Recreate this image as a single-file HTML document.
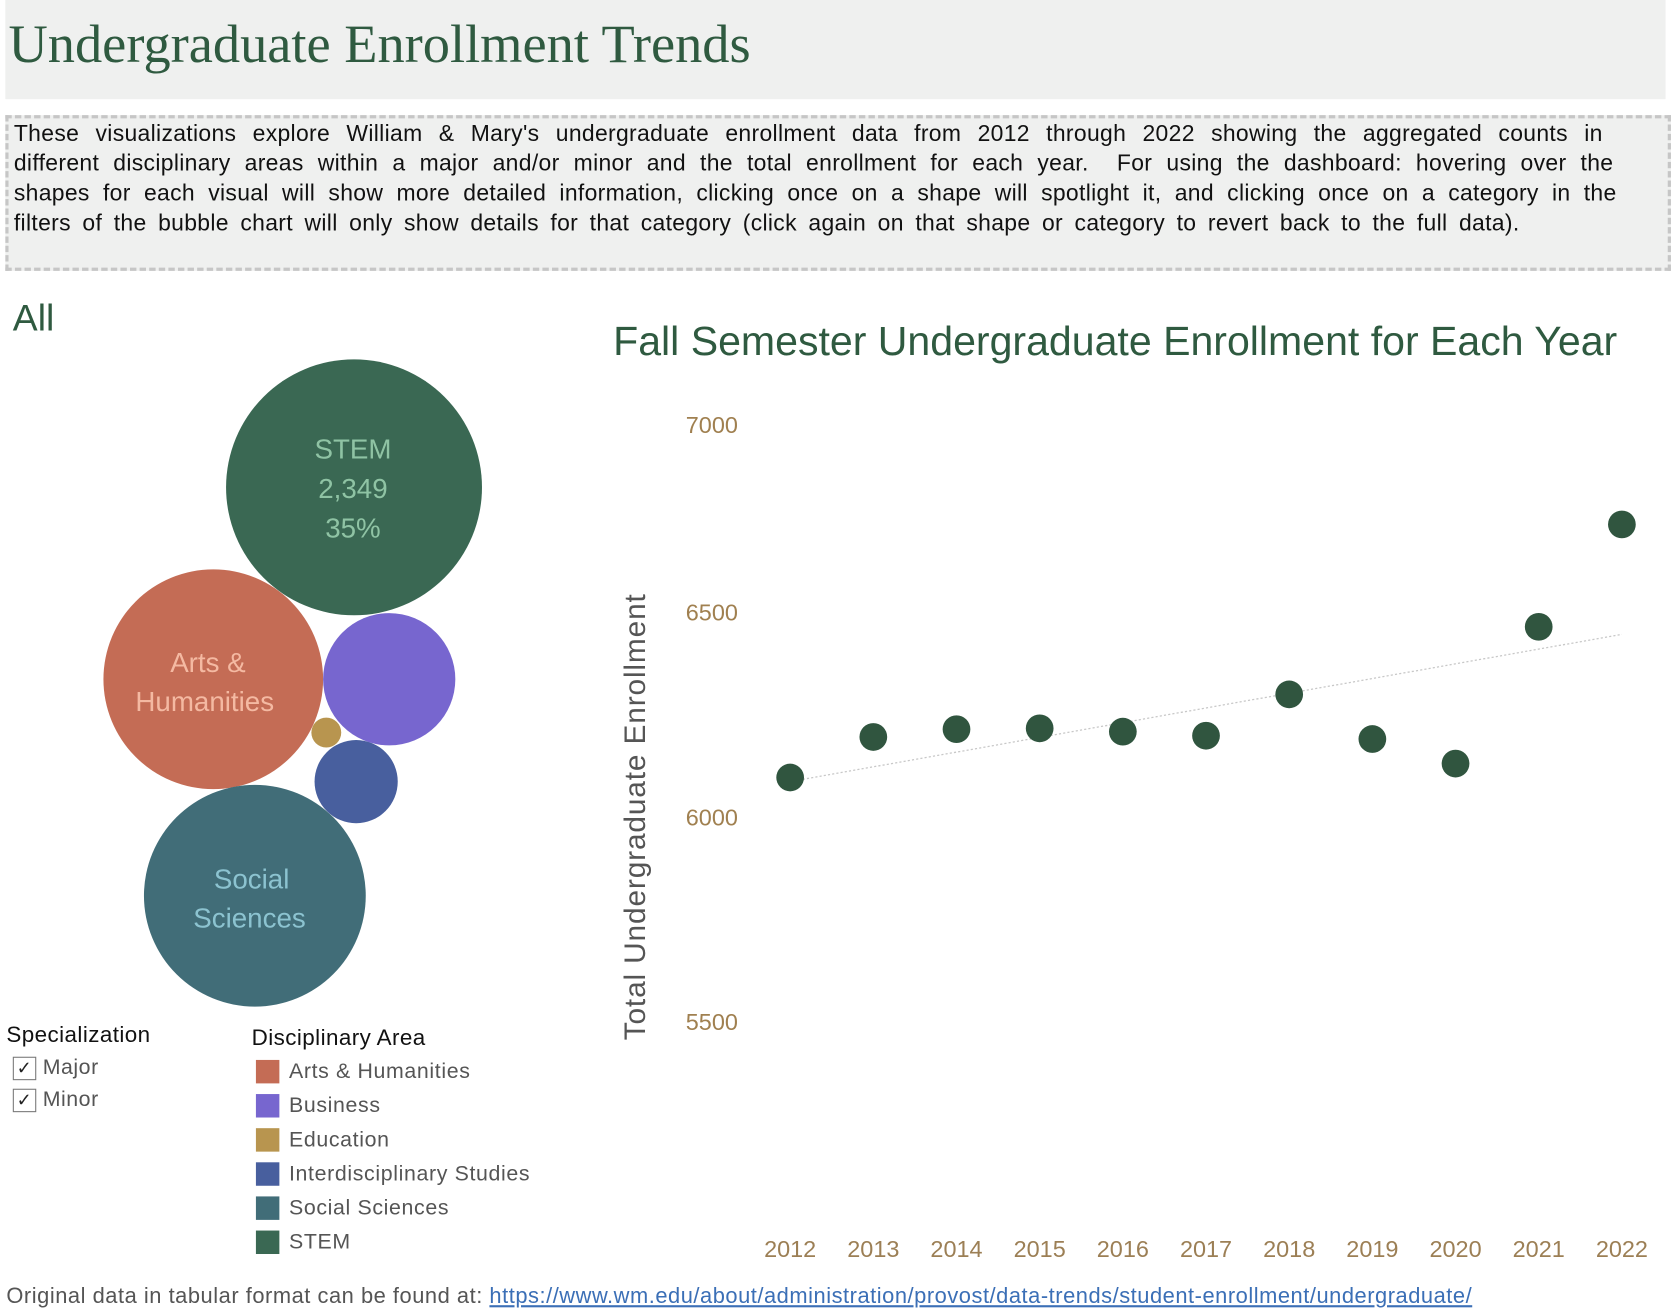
<!DOCTYPE html>
<html><head><meta charset="utf-8">
<style>
html,body{margin:0;padding:0;background:#fff;width:1672px;height:1316px;overflow:hidden}
#wrap{position:absolute;left:0;top:0;width:1568px;height:1234px;transform:scale(1.06633);transform-origin:0 0;font-family:"Liberation Sans",sans-serif}
.abs{position:absolute;white-space:nowrap}
.dl{display:block;white-space:nowrap;text-align:justify;text-align-last:justify;height:28px}
</style></head><body>
<div id="wrap">
<div class="abs" style="left:5px;top:0;width:1557px;height:93px;background:#eff0ef"></div>
<div class="abs" style="left:8px;top:13px;font-family:'Liberation Serif',serif;font-size:51px;color:#2f5a40">Undergraduate Enrollment Trends</div>
<div class="abs" style="left:5px;top:108px;width:1551px;height:140px;background:#eff0ef;border:3px dashed #c6c6c6;white-space:normal;font-size:21.5px;line-height:28px;color:#111;padding:0 0 0 5px;box-sizing:content-box">
<div style="padding-top:0px;letter-spacing:0.3px">
<span class="dl" style="width:1490px">These visualizations explore William &amp; Mary's undergraduate enrollment data from 2012 through 2022 showing the aggregated counts in</span>
<span class="dl" style="width:1500px">different disciplinary areas within a major and/or minor and the total enrollment for each year.&nbsp; For using the dashboard: hovering over the</span>
<span class="dl" style="width:1503px">shapes for each visual will show more detailed information, clicking once on a shape will spotlight it, and clicking once on a category in the</span>
<span class="dl" style="width:1412px">filters of the bubble chart will only show details for that category (click again on that shape or category to revert back to the full data).</span>
</div></div>
<div class="abs" style="left:12px;top:279px;font-size:35px;color:#2f5a40">All</div>

<svg class="abs" style="left:0;top:0" width="580" height="960">
<g font-family="Liberation Sans, sans-serif" text-anchor="middle" font-size="26">
<circle cx="332" cy="457" r="120" fill="#3a6853"/>
<text fill="#8fc3a4"><tspan x="331" y="430">STEM</tspan><tspan x="331" y="467">2,349</tspan><tspan x="331" y="504">35%</tspan></text>
<circle cx="200" cy="637" r="103" fill="#c46c55"/>
<text fill="#f4b9a2"><tspan x="195" y="630">Arts &amp;</tspan><tspan x="192" y="667">Humanities</tspan></text>
<circle cx="365" cy="637" r="62" fill="#7766cf"/>
<circle cx="306" cy="687" r="14" fill="#b8954f"/>
<circle cx="334" cy="733" r="39" fill="#485f9e"/>
<circle cx="239" cy="840" r="104" fill="#416d78"/>
<text fill="#8cc3d0"><tspan x="236" y="833">Social</tspan><tspan x="234" y="870">Sciences</tspan></text>
</g></svg>

<div class="abs" style="left:6px;top:959px;font-size:21px;letter-spacing:0.4px;color:#111">Specialization</div>
<div class="abs" style="left:12px;top:990px;font-size:20px;letter-spacing:0.5px;color:#555"><span style="display:inline-block;width:20px;height:20px;border:1px solid #777;text-align:center;line-height:20px;font-size:17px;color:#222;vertical-align:middle">✓</span> <span style="vertical-align:middle">Major</span></div>
<div class="abs" style="left:12px;top:1020px;font-size:20px;letter-spacing:0.5px;color:#555"><span style="display:inline-block;width:20px;height:20px;border:1px solid #777;text-align:center;line-height:20px;font-size:17px;color:#222;vertical-align:middle">✓</span> <span style="vertical-align:middle">Minor</span></div>

<div class="abs" style="left:236px;top:962px;font-size:21px;letter-spacing:0.4px;color:#111">Disciplinary Area</div>
<div id="legend"></div>

<div class="abs" style="left:575px;top:299px;font-size:38.5px;color:#2f5a40">Fall Semester Undergraduate Enrollment for Each Year</div>

<svg id="chart" class="abs" style="left:0;top:0" width="1568" height="1234"></svg>

<div class="abs" style="left:6px;top:1204px;font-size:20.5px;letter-spacing:0.5px;color:#555">Original data in tabular format can be found at: <a style="color:#3b6fb6;text-decoration:underline">https://www.wm.edu/about/administration/provost/data-trends/student-enrollment/undergraduate/</a></div>
</div>
<script>
const legendLabels=["Arts & Humanities","Business","Education","Interdisciplinary Studies","Social Sciences","STEM"];
const legendColors=["#c46c55","#7766cf","#b8954f","#485f9e","#416d78","#3a6853"];
const years=[2012,2013,2014,2015,2016,2017,2018,2019,2020,2021,2022];
const enrollment=[6096,6195,6214,6216,6208,6198,6299,6190,6130,6464,6714];
const yTicks=[7000,6500,6000,5500];

const lg=document.getElementById('legend');
legendLabels.forEach((l,i)=>{
  const d=document.createElement('div');
  d.className='abs';
  d.style.cssText=`left:240px;top:${994+i*32}px;font-size:20px;letter-spacing:0.6px;color:#555;line-height:22px`;
  
  
  d.innerHTML=`<span style="display:inline-block;width:22px;height:22px;background:${legendColors[i]};vertical-align:top;margin-right:9px"></span>`;
  d.appendChild(document.createTextNode(l));
  lg.appendChild(d);
});

const NS='http://www.w3.org/2000/svg';
const svg=document.getElementById('chart');
const xS=y=>741+(y-2012)*78;
const yS=v=>766-(v-6000)*0.384;
function mk(t,a){const e=document.createElementNS(NS,t);for(const k in a)e.setAttribute(k,a[k]);svg.appendChild(e);return e;}
yTicks.forEach(t=>{
  const e=mk('text',{x:692,y:Math.max(yS(t),398)+8,'text-anchor':'end','font-size':22,fill:'#a08050','font-family':'Liberation Sans, sans-serif'});
  
  
  e.textContent=t;
});
years.forEach(y=>{
  const e=mk('text',{x:xS(y),y:1179,'text-anchor':'middle','font-size':22,fill:'#9c7f55','font-family':'Liberation Sans, sans-serif'});
  
  
  e.textContent=y;
});
const yt=mk('text',{transform:'translate(605,766) rotate(-90)','text-anchor':'middle','font-size':28,'letter-spacing':0.8,fill:'#555','font-family':'Liberation Sans, sans-serif'});


yt.textContent='Total Undergraduate Enrollment';
const n=years.length;let mx=0,my=0;years.forEach((x,i)=>{mx+=x/n;my+=enrollment[i]/n;});
let sxy=0,sxx=0;years.forEach((x,i)=>{sxy+=(x-mx)*(enrollment[i]-my);sxx+=(x-mx)*(x-mx);});
const b=sxy/sxx,a=my-b*mx;
const tl=mk('line',{x1:xS(years[0]),y1:yS(a+b*years[0]),x2:xS(years[n-1]),y2:yS(a+b*years[n-1]),stroke:'#c8c8c8','stroke-width':1.2,'stroke-dasharray':'2,2'});


years.forEach((y,i)=>{
  const c=mk('circle',{cx:xS(y),cy:yS(enrollment[i]),r:13,fill:'#30553f'});
  
  
});
</script>
</body></html>
